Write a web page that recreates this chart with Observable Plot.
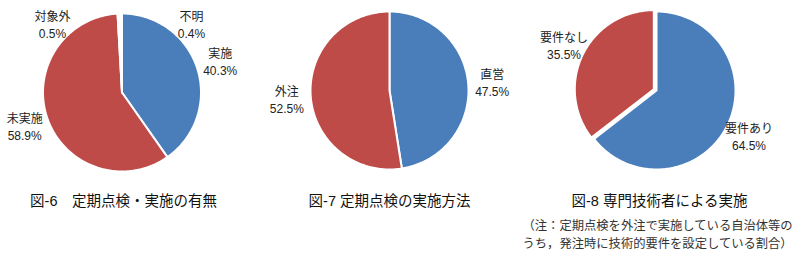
<!DOCTYPE html>
<html>
<head>
<meta charset="utf-8">
<script src="https://cdn.jsdelivr.net/npm/d3@7"></script>
<script src="https://cdn.jsdelivr.net/npm/@observablehq/plot@0.6"></script>
<style>
  html, body { margin: 0; padding: 0; background: #fff; }
  #chart svg { display: block; }
</style>
</head>
<body>
<div id="chart"></div>
<script>
// ---- data ----
const pie6Labels = ["実施", "未実施", "対象外", "不明"];
const pie6Values = [40.3, 58.9, 0.5, 0.4];
const pie7Labels = ["直営", "外注"];
const pie7Values = [47.5, 52.5];
const pie8Labels = ["要件あり", "要件なし"];
const pie8Values = [64.5, 35.5];
const titles = ["図-6　定期点検・実施の有無", "図-7 定期点検の実施方法", "図-8 専門技術者による実施"];
const noteLines = ["（注：定期点検を外注で実施している自治体等の", "うち，発注時に技術的要件を設定している割合）"];

// ---- layout / style ----
const palette = ["#4A7EBB", "#BE4B48", "#FFFFFF", "#FFFFFF"];
const pies = [
  {labels: pie6Labels, values: pie6Values, cx: 121.5, cy: 92, r: 79, explode: [0, 0, 0, 0],
   labelPos: {2: [52, 24], 3: [191, 24]}},
  {labels: pie7Labels, values: pie7Values, cx: 389, cy: 90, r: 79, explode: [0, 0], labelPos: {}},
  {labels: pie8Labels, values: pie8Values, cx: 656, cy: 90, r: 79, explode: [0, 3], labelPos: {}}
];
const titlePos = [[123, 201], [389, 201], [659, 201]];
const notePos = [[522, 226], [522, 244]];
const labelDist = 103;

// build slice outlines (polar -> plane) from the values
const slicePts = [];
const labelRows = [];
pies.forEach((p, pi) => {
  const arcs = d3.pie().sort(null).value(d => d)(p.values);
  arcs.forEach((a, i) => {
    const key = `${pi}-${i}`;
    const mid = (a.startAngle + a.endAngle) / 2;
    const ox = p.explode[i] * Math.sin(mid), oy = -p.explode[i] * Math.cos(mid);
    const cx = p.cx + ox, cy = p.cy + oy;
    slicePts.push({key, x: cx, y: cy, fill: palette[i]});
    const n = Math.max(2, Math.ceil((a.endAngle - a.startAngle) / (Math.PI / 180)));
    for (let k = 0; k <= n; k++) {
      const t = a.startAngle + (a.endAngle - a.startAngle) * k / n;
      slicePts.push({key, x: cx + p.r * Math.sin(t), y: cy - p.r * Math.cos(t), fill: palette[i]});
    }
    slicePts.push({key, x: cx, y: cy, fill: palette[i]});
    const lp = p.labelPos[i] || [p.cx + labelDist * Math.sin(mid), p.cy - labelDist * Math.cos(mid)];
    labelRows.push({x: lp[0], y: lp[1], text: `${p.labels[i]}\n${p.values[i].toFixed(1)}%`});
  });
});

const titleRows = titles.map((t, i) => ({x: titlePos[i][0], y: titlePos[i][1], text: t}));
const noteRows = noteLines.map((t, i) => ({x: notePos[i][0], y: notePos[i][1], text: t}));

const font = "'Liberation Sans', 'Noto Sans CJK JP', sans-serif";

const chart = Plot.plot({
  width: 800,
  height: 254,
  margin: 0,
  style: {fontFamily: font, background: "#fff"},
  x: {domain: [0, 800], range: [0, 800], axis: null},
  y: {domain: [0, 254], range: [0, 254], axis: null},
  marks: [
    Plot.line(slicePts, {x: "x", y: "y", z: "key", fill: d => d.fill, stroke: "white", strokeWidth: 2, strokeLinejoin: "round", curve: "linear"}),
    Plot.text(labelRows, {x: "x", y: "y", text: "text", fontSize: 12, lineHeight: 1.42, fill: "#222", textAnchor: "middle"}),
    Plot.text(titleRows, {x: "x", y: "y", text: "text", fontSize: 14.5, fill: "#111", textAnchor: "middle"}),
    Plot.text(noteRows, {x: "x", y: "y", text: "text", fontSize: 12.3, fill: "#333", textAnchor: "start"})
  ]
});
document.getElementById("chart").appendChild(chart);
</script>
</body>
</html>
